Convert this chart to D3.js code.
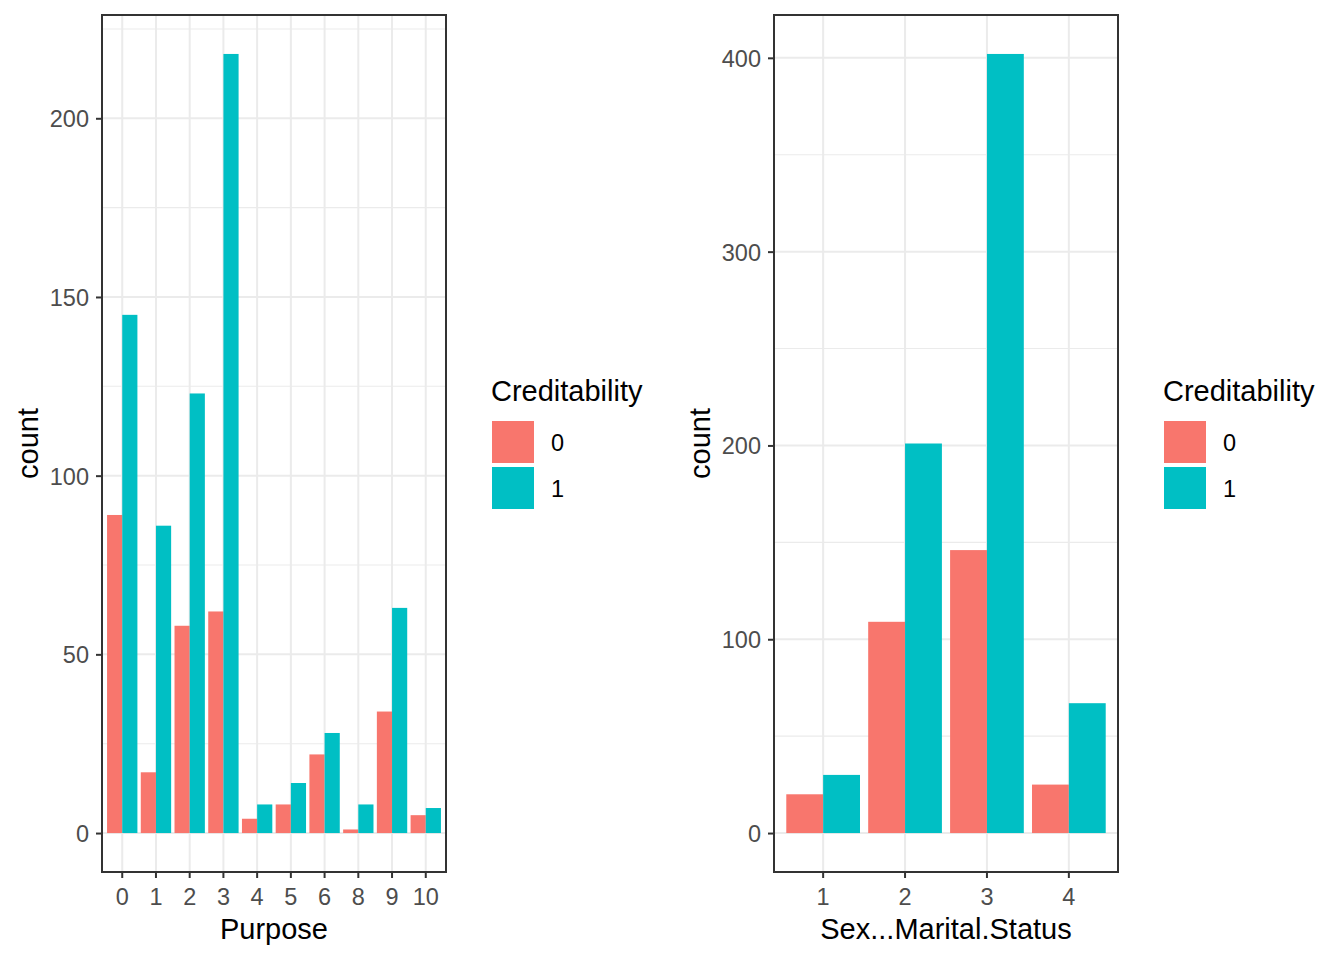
<!DOCTYPE html>
<html>
<head>
<meta charset="utf-8">
<script src="https://cdn.jsdelivr.net/npm/d3@7"></script>
<style>
  html, body { margin: 0; padding: 0; background: #fff; }
  svg { display: block; font-family: "Liberation Sans", Arial, sans-serif; }
</style>
</head>
<body>
<svg id="chart" width="1344" height="960"></svg>
<script>
// ---- data ----
const creditLevels = ["0", "1"];
const purposeCats = ["0", "1", "2", "3", "4", "5", "6", "8", "9", "10"];
const purposeCred0 = [89, 17, 58, 62, 4, 8, 22, 1, 34, 5];
const purposeCred1 = [145, 86, 123, 218, 8, 14, 28, 8, 63, 7];
const sexCats = ["1", "2", "3", "4"];
const sexCred0 = [20, 109, 146, 25];
const sexCred1 = [30, 201, 402, 67];
const purposeTicks = [0, 50, 100, 150, 200];
const sexTicks = [0, 100, 200, 300, 400];

const colors = d3.scaleOrdinal().domain(creditLevels).range(["#F8766D", "#00BFC4"]);
const svg = d3.select("#chart");

function panel(opts) {
  const { x0, x1, y0, y1, cats, v0, v1, ticks, xTitle, legendX } = opts;
  const g = svg.append("g");
  const maxV = d3.max(v0.concat(v1));
  const pad = maxV * 0.05;
  const y = d3.scaleLinear().domain([-pad, maxV + pad]).range([y1, y0]);
  const x = d3.scaleBand().domain(cats).range([x0, x1]).paddingInner(0.1).paddingOuter(0.15);
  const xs = d3.scaleBand().domain(creditLevels).range([0, x.bandwidth()]).padding(0);

  g.append("rect").attr("x", x0).attr("y", y0).attr("width", x1 - x0).attr("height", y1 - y0).attr("fill", "#fff");

  // minor grid
  const step = ticks[1] - ticks[0];
  const minors = [];
  for (let t = ticks[0] - step / 2; t <= maxV + pad; t += step) {
    if (t >= -pad) minors.push(t);
  }
  g.selectAll(".minor").data(minors).enter().append("line")
    .attr("x1", x0).attr("x2", x1)
    .attr("y1", d => y(d)).attr("y2", d => y(d))
    .attr("stroke", "#EBEBEB").attr("stroke-width", 1.1);
  // major grid
  g.selectAll(".majorY").data(ticks).enter().append("line")
    .attr("x1", x0).attr("x2", x1)
    .attr("y1", d => y(d)).attr("y2", d => y(d))
    .attr("stroke", "#EBEBEB").attr("stroke-width", 2);
  g.selectAll(".majorX").data(cats).enter().append("line")
    .attr("x1", d => x(d) + x.bandwidth() / 2).attr("x2", d => x(d) + x.bandwidth() / 2)
    .attr("y1", y0).attr("y2", y1)
    .attr("stroke", "#EBEBEB").attr("stroke-width", 2);

  // bars
  const rows = [];
  cats.forEach((c, i) => {
    rows.push({ cat: c, lvl: "0", v: v0[i] });
    rows.push({ cat: c, lvl: "1", v: v1[i] });
  });
  g.selectAll(".bar").data(rows).enter().append("rect")
    .attr("x", d => x(d.cat) + xs(d.lvl))
    .attr("width", xs.bandwidth())
    .attr("y", d => y(d.v))
    .attr("height", d => y(0) - y(d.v))
    .attr("fill", d => colors(d.lvl));

  // border
  g.append("rect").attr("x", x0).attr("y", y0).attr("width", x1 - x0).attr("height", y1 - y0)
    .attr("fill", "none").attr("stroke", "#333333").attr("stroke-width", 2);

  // axes
  const ya = g.append("g").attr("transform", `translate(${x0},0)`)
    .call(d3.axisLeft(y).tickValues(ticks).tickSize(6).tickPadding(7));
  const xa = g.append("g").attr("transform", `translate(0,${y1})`)
    .call(d3.axisBottom(x).tickSize(6).tickPadding(5));
  [ya, xa].forEach(a => {
    a.select(".domain").remove();
    a.selectAll(".tick line").attr("stroke", "#333333").attr("stroke-width", 2);
    a.selectAll(".tick text").attr("fill", "#4D4D4D").style("font-size", "23.5px")
      .style("font-family", "'Liberation Sans', Arial, sans-serif");
  });
  ya.selectAll(".tick text").attr("dy", "0.36em");
  xa.selectAll(".tick text").attr("dy", "0").attr("y", 33);

  // titles
  g.append("text").attr("x", (x0 + x1) / 2).attr("y", 939).attr("text-anchor", "middle")
    .style("font-size", "29px").attr("fill", "#000").text(xTitle);
  g.append("text").attr("transform", `translate(${x0 - 64},${(y0 + y1) / 2}) rotate(-90)`)
    .attr("text-anchor", "middle").style("font-size", "29px").attr("fill", "#000").text("count");

  // legend
  const lg = g.append("g").attr("transform", `translate(${legendX},0)`);
  lg.append("text").attr("x", 0).attr("y", 401).style("font-size", "29px").attr("fill", "#000").text("Creditability");
  creditLevels.forEach((lv, i) => {
    lg.append("rect").attr("x", 1).attr("y", 421 + i * 46).attr("width", 42).attr("height", 42).attr("fill", colors(lv));
    lg.append("text").attr("x", 60).attr("y", 443 + i * 46).attr("dy", "0.36em")
      .style("font-size", "23.5px").attr("fill", "#000").text(lv);
  });
}

panel({ x0: 102, x1: 446, y0: 15, y1: 872, cats: purposeCats, v0: purposeCred0, v1: purposeCred1,
  ticks: purposeTicks, xTitle: "Purpose", legendX: 491 });
panel({ x0: 774, x1: 1118, y0: 15, y1: 872, cats: sexCats, v0: sexCred0, v1: sexCred1,
  ticks: sexTicks, xTitle: "Sex...Marital.Status", legendX: 1163 });
</script>
</body>
</html>
